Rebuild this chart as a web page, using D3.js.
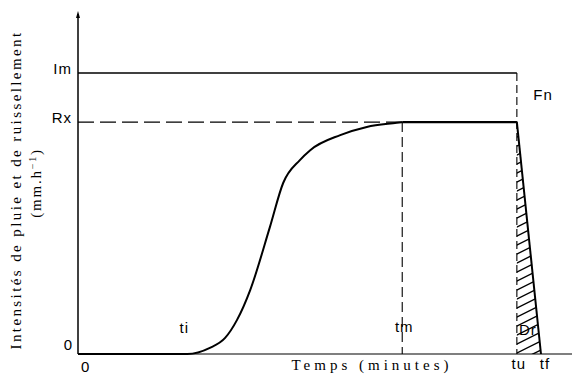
<!DOCTYPE html>
<html><head><meta charset="utf-8">
<script src="https://cdn.jsdelivr.net/npm/d3@7"></script>
<style>
body{margin:0;background:#fff;}
svg{display:block;}
.sans{font-family:"Liberation Sans",Arial,sans-serif;font-size:15px;fill:#000;letter-spacing:1px;}
.serif{font-family:"Liberation Serif","Times New Roman",serif;font-size:15px;fill:#000;}
</style></head>
<body>
<svg id="chart" width="577" height="375"></svg>
<script>
// ---- data (time in arbitrary minutes units, intensity in arbitrary mm/h units) ----
const timeMarks = ["0", "ti", "tm", "tu", "tf"];
const timeValues = [0, 22.2, 65.9, 89.2, 94.1];
const intensityMarks = ["0", "Rx", "Im"];
const intensityValues = [0, 67.8, 82.2];
const runoffTime = [0, 22.2, 26.8, 29.9, 32.3, 35.0, 39.0, 41.7, 45.1, 47.2, 53.3, 58.7, 64.8, 65.9];
const runoffRate = [0, 0, 1.8, 4.7, 9.9, 18.7, 37.1, 50.0, 56.7, 59.6, 64.0, 66.4, 67.6, 67.8];
const plateauTime = [65.9, 89.2];
const recessionTime = [89.2, 94.1];
const recessionRate = [67.8, 0];

const svg = d3.select("#chart");
const x = d3.scaleLinear().domain([0, 100]).range([78, 570]);
const y = d3.scaleLinear().domain([0, 100]).range([354, 12]);

const T = k => timeValues[timeMarks.indexOf(k)];
const R = k => intensityValues[intensityMarks.indexOf(k)];

// hatched area (detention Dr)
const defs = svg.append("defs");
const hatchPoly = [[T("tu"), R("Rx") - 5], [T("tu"), 0], [recessionTime[1], recessionRate[1]],
                   [recessionTime[0], recessionRate[0]]];
defs.append("clipPath").attr("id", "hclip").append("path")
  .attr("d", d3.line().x(d => x(d[0])).y(d => y(d[1]))(hatchPoly) + "Z");
const hg = svg.append("g").attr("clip-path", "url(#hclip)");
for (let yy = 130; yy < 380; yy += 9) {
  hg.append("line").attr("x1", x(T("tu")) - 2).attr("y1", yy + 8)
    .attr("x2", x(T("tu")) + 30).attr("y2", yy - 8)
    .attr("stroke", "#000").attr("stroke-width", 1.4);
}

// axes
svg.append("line").attr("x1", x(0)).attr("x2", x(0)).attr("y1", y(0)).attr("y2", 14)
  .attr("stroke", "#000").attr("stroke-width", 1.5);
svg.append("path").attr("d", `M${x(0)-2},18 L${x(0)},11 L${x(0)+2},18 Z`).attr("fill", "#000");
svg.append("line").attr("x1", x(0)).attr("x2", 572).attr("y1", y(0)).attr("y2", y(0))
  .attr("stroke", "#000").attr("stroke-width", 1.2);

// rainfall intensity Im
svg.append("line").attr("x1", x(0)).attr("x2", x(T("tu"))).attr("y1", y(R("Im"))).attr("y2", y(R("Im")))
  .attr("stroke", "#000").attr("stroke-width", 1.5);
// Rx dashed reference
svg.append("line").attr("x1", x(0)).attr("x2", x(T("tm"))).attr("y1", y(R("Rx"))).attr("y2", y(R("Rx")))
  .attr("stroke", "#000").attr("stroke-width", 1.2).attr("stroke-dasharray", "16,6");
// tm dashed vertical
svg.append("line").attr("x1", x(T("tm"))).attr("x2", x(T("tm"))).attr("y1", y(R("Rx"))).attr("y2", y(0))
  .attr("stroke", "#000").attr("stroke-width", 1.1).attr("stroke-dasharray", "10,5");
// tu dashed vertical
svg.append("line").attr("x1", x(T("tu"))).attr("x2", x(T("tu"))).attr("y1", y(R("Im"))).attr("y2", y(0))
  .attr("stroke", "#000").attr("stroke-width", 1.1).attr("stroke-dasharray", "8,4");

// runoff hydrograph
const line = d3.line().x(d => x(d[0])).y(d => y(d[1])).curve(d3.curveMonotoneX);
svg.append("path").attr("d", line(runoffTime.map((t, i) => [t, runoffRate[i]])))
  .attr("fill", "none").attr("stroke", "#000").attr("stroke-width", 2);
svg.append("line").attr("x1", x(plateauTime[0])).attr("x2", x(plateauTime[1]))
  .attr("y1", y(R("Rx"))).attr("y2", y(R("Rx"))).attr("stroke", "#000").attr("stroke-width", 2.2);
svg.append("path").attr("d", d3.line().x(d => x(d[0])).y(d => y(d[1]))(recessionTime.map((t, i) => [t, recessionRate[i]])))
  .attr("fill", "none").attr("stroke", "#000").attr("stroke-width", 2);

// labels
const txt = (s, px, py, cls, anchor) => svg.append("text").attr("x", px).attr("y", py)
  .attr("class", cls).attr("text-anchor", anchor || "start").text(s);
txt("Im", 72, y(R("Im")) + 1, "sans", "end");
txt("Rx", 72, y(R("Rx")) + 1, "sans", "end");
txt("0", 73, 350, "sans", "end");
txt("0", x(0) + 3, 372, "sans");
txt("ti", x(T("ti")) - 3, 333, "sans", "middle");
txt("tm", x(T("tm")) + 2, 332, "sans", "middle");
txt("Dr", x(T("tu")) + 11, 335, "sans", "middle");
txt("tu", x(T("tu")) + 2, 369, "sans", "middle");
txt("tf", x(T("tf")) + 4, 369, "sans", "middle");
txt("Fn", 543, 100, "sans", "middle");
txt("Temps (minutes)", 372, 370, "serif", "middle").style("letter-spacing", "4px");

svg.append("text").attr("class", "serif").attr("text-anchor", "middle")
  .attr("transform", "translate(21,190) rotate(-90)").style("letter-spacing", "2.4px")
  .text("Intensités de pluie et de ruissellement");
const u = svg.append("text").attr("class", "serif").attr("text-anchor", "middle")
  .attr("transform", "translate(41,183) rotate(-90)").style("letter-spacing", "1.8px");
u.append("tspan").text("(mm.h");
u.append("tspan").attr("dy", -5).style("font-size", "10px").text("−1");
u.append("tspan").attr("dy", 5).text(")");
</script>
</body></html>
